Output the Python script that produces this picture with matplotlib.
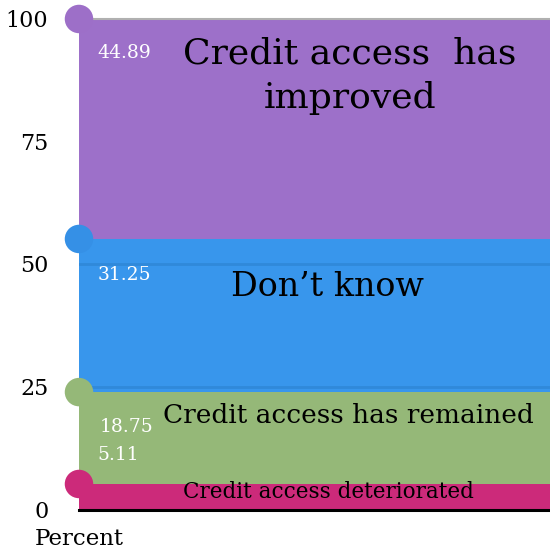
import matplotlib
matplotlib.use("Agg")
import matplotlib.pyplot as plt
import numpy as np

# Shares of respondents (percent), stacked bottom to top
categories = ["Credit access deteriorated", "Credit access has remained",
              "Don\u2019t know", "Credit access  has\nimproved"]
values = [5.11, 18.75, 31.25, 44.89]
colors = ["#cc2a7a", "#95b878", "#3896ec", "#9d70c9"]
dot_colors = ["#cc2a7a", "#95b878", "#3590e6", "#9d6fc8"]
yticks = [0, 25, 50, 75, 100]

plt.rcParams["font.family"] = ["DejaVu Serif"]

fig = plt.figure(figsize=(5.5, 5.5), dpi=100)
ax = fig.add_axes([0.1436, 0.0745, 0.8564, 0.891])

x = np.array([0.0, 1.0])
bottoms = np.concatenate([[0], np.cumsum(values)[:-1]])
tops = np.cumsum(values)

for b, t, c in zip(bottoms, tops, colors):
    ax.fill_between(x, b, t, color=c, linewidth=0, zorder=1)

# faint gridlines visible across the blue band
blue_lo, blue_hi = bottoms[2], tops[2]
for g in yticks:
    if blue_lo < g < blue_hi:
        ax.axhline(g, color="#3089da", lw=2.0, zorder=2)

# dots at the top of every band on the left edge
ax.scatter(np.zeros(len(tops)), tops, s=420, c=dot_colors, zorder=4,
           clip_on=False, linewidths=0)

# category captions
cap_style = [
    (0.529, 3.5, 15.5),
    (0.571, 19.0, 19),
    (0.527, 45.3, 24),
    (0.575, 88.4, 26),
]
for name, (cx, cy, fs) in zip(categories, cap_style):
    ax.text(cx, cy, name, ha="center", va="center", fontsize=fs,
            color="black", zorder=5, linespacing=1.4)

# value labels
val_pos = [(0.040, 11.0), (0.044, 16.7), (0.040, 47.8), (0.040, 93.1)]
for v, (vx, vy) in zip(values, val_pos):
    ax.text(vx, vy, f"{v:.2f}", ha="left", va="center", fontsize=13.5,
            color="white", zorder=5)

ax.set_xlim(0, 1)
ax.set_ylim(0, 100)
ax.set_yticks(yticks)
ax.set_yticklabels([str(t) for t in yticks], fontsize=16)
ax.tick_params(axis="y", length=0, pad=22)
ax.set_xticks([])

for s in ["left", "right"]:
    ax.spines[s].set_visible(False)
ax.spines["top"].set_color("#b0b0b0")
ax.spines["top"].set_linewidth(1.5)
ax.spines["top"].set_zorder(3)
ax.spines["bottom"].set_color("black")
ax.spines["bottom"].set_linewidth(2.2)
ax.spines["bottom"].set_position(("outward", 1))

fig.text(0.1436, 0.020, "Percent", ha="center", va="center", fontsize=16.5)

fig.savefig("out.png", dpi=100)
